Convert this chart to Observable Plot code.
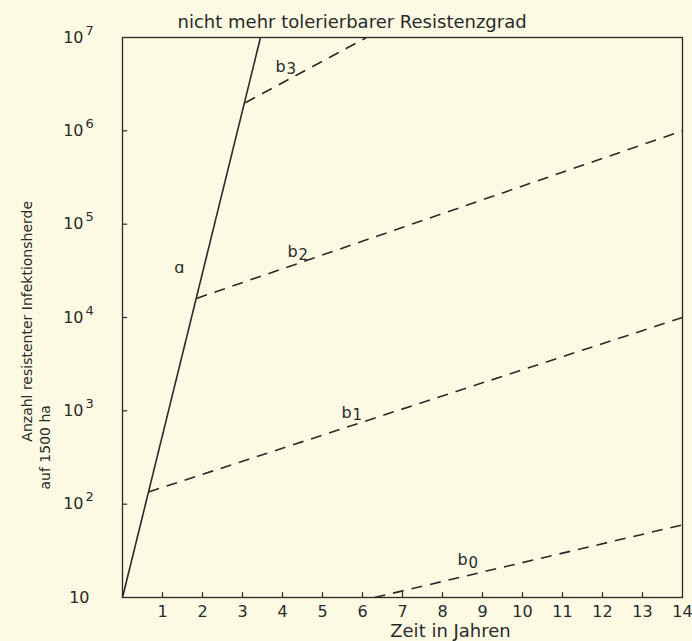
<!DOCTYPE html>
<html>
<head>
<meta charset="utf-8">
<script src="https://cdn.jsdelivr.net/npm/d3@7"></script>
<script src="https://cdn.jsdelivr.net/npm/@observablehq/plot@0.6"></script>
<style>
  html, body { margin: 0; padding: 0; background: #fcfae3; }
  #chart svg { display: block; }
</style>
</head>
<body>
<div id="chart"></div>
<script>
// Lines (start / end points)
const lineNames = ["a", "b0", "b1", "b2", "b3"];
const lineDashed = [false, true, true, true, true];
const xStart = [0, 6.3, 0.65, 1.85, 3.07];
const yStart = [10, 10, 135, 1.6e4, 2e6];
const xEnd = [3.45, 14, 14, 14, 6.1];
const yEnd = [1e7, 60, 1e4, 1e6, 1e7];

// Line labels
const labelMain = ["ɑ", "b", "b", "b", "b"];
const labelSub = ["", "0", "1", "2", "3"];
const labelX = [1.42, 8.5, 5.6, 4.25, 3.95];
const labelY = [3.4e4, 25, 960, 5e4, 4.9e6];

// Axes
const xTicks = [1, 2, 3, 4, 5, 6, 7, 8, 9, 10, 11, 12, 13, 14];
const yTicks = [10, 1e2, 1e3, 1e4, 1e5, 1e6, 1e7];
const yTickBase = ["10", "10", "10", "10", "10", "10", "10"];
const yTickExp = ["", "2", "3", "4", "5", "6", "7"];

const title = "nicht mehr tolerierbarer Resistenzgrad";
const xLabel = "Zeit in Jahren";
const yLabel1 = "Anzahl resistenter Infektionsherde";
const yLabel2 = "auf 1500 ha";

const lines = lineNames.map((n, i) => ({name: n, dashed: lineDashed[i], x1: xStart[i], y1: yStart[i], x2: xEnd[i], y2: yEnd[i]}));
const labels = labelMain.map((m, i) => ({main: m, sub: labelSub[i], x: labelX[i], y: labelY[i]}));
const yt = yTicks.map((v, i) => ({v, base: yTickBase[i], exp: yTickExp[i]}));

const ink = "#2a2a2a";
const font = "DejaVu Sans, sans-serif";

const chart = Plot.plot({
  width: 692,
  height: 641,
  marginLeft: 122,
  marginRight: 10,
  marginTop: 37,
  marginBottom: 44,
  style: {background: "#fcfae3", fontFamily: font, color: ink},
  x: {domain: [0, 14], axis: null},
  y: {type: "log", domain: [10, 1e7], axis: null},
  marks: [
    Plot.frame({stroke: ink, strokeWidth: 1.3}),
    // inward tick marks
    Plot.ruleX(xTicks.slice(0, -1), {x: d => d, y1: 10, y2: 11.3, stroke: ink, strokeWidth: 1.2}),
    Plot.ruleY(yTicks.slice(1, -1), {y: d => d, x1: 0, x2: 0.13, stroke: ink, strokeWidth: 1.2}),
    // lines
    Plot.link(lines.filter(d => !d.dashed), {x1: "x1", y1: "y1", x2: "x2", y2: "y2", stroke: ink, strokeWidth: 1.6}),
    Plot.link(lines.filter(d => d.dashed), {x1: "x1", y1: "y1", x2: "x2", y2: "y2", stroke: ink, strokeWidth: 1.6, strokeDasharray: "11,8"}),
    // line labels
    Plot.text(labels, {x: "x", y: "y", text: "main", fontSize: 16, fill: ink, textAnchor: "middle"}),
    Plot.text(labels, {x: "x", y: "y", text: "sub", fontSize: 15, fill: ink, textAnchor: "start", dx: 6, dy: 3}),
    // x tick labels
    Plot.text(xTicks, {x: d => d, y: 10, text: d => String(d), dy: 14, fontSize: 16, fill: ink}),
    // y tick labels: base and superscript exponent
    Plot.text(yt.filter(d => d.exp), {x: 0, y: "v", text: "base", dx: -39, textAnchor: "end", fontSize: 16, fill: ink}),
    Plot.text(yt.filter(d => !d.exp), {x: 0, y: "v", text: "base", dx: -33, textAnchor: "end", fontSize: 16, fill: ink}),
    Plot.text(yt.filter(d => d.exp), {x: 0, y: "v", text: "exp", dx: -37, dy: -7, textAnchor: "start", fontSize: 13, fill: ink}),
    // title and axis labels
    Plot.text([title], {x: 5.74, y: 1e7, text: d => d, dy: -15, fontSize: 18, fill: ink}),
    Plot.text([xLabel], {x: 8.2, y: 10, text: d => d, dy: 34, fontSize: 18, fill: ink}),
    Plot.text([yLabel1], {x: 0, y: 9.1e3, text: d => d, dx: -95, rotate: -90, fontSize: 14, fill: ink}),
    Plot.text([yLabel2], {x: 0, y: 407, text: d => d, dx: -77, rotate: -90, fontSize: 14, fill: ink})
  ]
});
document.getElementById("chart").appendChild(chart);
</script>
</body>
</html>
